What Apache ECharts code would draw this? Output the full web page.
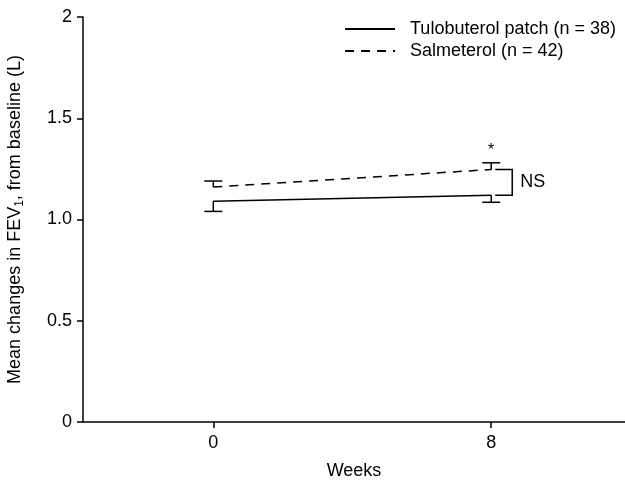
<!DOCTYPE html>
<html>
<head>
<meta charset="utf-8">
<script src="https://cdn.jsdelivr.net/npm/echarts@6/dist/echarts.min.js"></script>
<style>
  html, body { margin: 0; padding: 0; background: #fff; }
  #chart { width: 625px; height: 483px; }
</style>
</head>
<body>
<div id="chart"></div>
<script>
const weeks = [0, 8]
const tuloMean = [1.09, 1.12]
const tuloLow = [1.04, 1.085]
const salMean = [1.16, 1.247]
const salHigh = [1.19, 1.28]

const FONT = 'Liberation Sans'

const chart = echarts.init(document.getElementById('chart'))

// one-sided error bar: stem from mean to end, cap at the end
function errorBar(params, api) {
  const x = api.value(0)
  const p0 = api.coord([x, api.value(1)])
  const p1 = api.coord([x, api.value(2)])
  const style = { stroke: '#000', lineWidth: 1.5 }
  return {
    type: 'group',
    children: [
      { type: 'line', shape: { x1: p0[0], y1: p0[1], x2: p1[0], y2: p1[1] }, style },
      { type: 'line', shape: { x1: p1[0] - 9, y1: p1[1], x2: p1[0] + 9, y2: p1[1] }, style },
    ],
  }
}

// NS bracket between the two groups at the last week
function bracket(params, api) {
  const x = api.value(0)
  const a = api.coord([x, api.value(1)])
  const b = api.coord([x, api.value(2)])
  const style = { stroke: '#000', lineWidth: 1.5, fill: null }
  const bx = a[0] + 21
  return {
    type: 'group',
    children: [
      {
        type: 'polyline',
        shape: { points: [[a[0] + 4, a[1]], [bx, a[1]], [bx, b[1]], [a[0] + 4, b[1]]] },
        style,
      },
      {
        type: 'text',
        style: { x: bx + 8, y: (a[1] + b[1]) / 2, text: 'NS', font: '18px ' + FONT, fill: '#000', verticalAlign: 'middle' },
      },
    ],
  }
}

function star(params, api) {
  const p = api.coord([api.value(0), api.value(1)])
  return {
    type: 'text',
    style: { x: p[0], y: p[1] - 4, text: '*', font: '16px ' + FONT, fill: '#000', align: 'center', verticalAlign: 'bottom' },
  }
}

const last = weeks.length - 1

chart.setOption({
  animation: false,
  textStyle: { fontFamily: FONT, color: '#000' },
  grid: { left: 83, right: 0, top: 17, bottom: 61, containLabel: false, outerBoundsMode: 'none' },
  legend: {
    data: ['Tulobuterol patch (n = 38)', 'Salmeterol (n = 42)'],
    orient: 'vertical',
    right: 4,
    top: 15,
    itemWidth: 50,
    itemHeight: 14,
    itemGap: 4,
    align: 'left',
    itemStyle: { opacity: 0 },
    textStyle: { fontFamily: FONT, fontSize: 18, color: '#000', padding: [0, 0, 0, 10] },
  },
  xAxis: {
    type: 'value',
    min: -3.75,
    max: 11.85,
    name: 'Weeks',
    nameLocation: 'middle',
    nameGap: 40,
    nameTextStyle: { fontFamily: FONT, fontSize: 18, color: '#000' },
    splitLine: { show: false },
    axisLine: { onZero: false, lineStyle: { color: '#000', width: 1.5 } },
    axisTick: { customValues: weeks, length: 6, lineStyle: { color: '#000', width: 1.5 } },
    axisLabel: { customValues: weeks, margin: 12, fontFamily: FONT, fontSize: 18, color: '#000' },
  },
  yAxis: {
    type: 'value',
    min: 0,
    max: 2,
    interval: 0.5,
    name: 'Mean changes in FEV{sub|1}, from baseline (L)',
    nameLocation: 'middle',
    nameRotate: 90,
    nameGap: 57,
    nameTextStyle: {
      fontFamily: FONT,
      fontSize: 18,
      color: '#000',
      rich: { sub: { fontFamily: FONT, fontSize: 12, color: '#000', padding: [10, 0, 0, 0] } },
    },
    splitLine: { show: false },
    axisLine: { show: true, onZero: false, lineStyle: { color: '#000', width: 1.5 } },
    axisTick: { show: true, inside: false, length: 6, lineStyle: { color: '#000', width: 1.5 } },
    axisLabel: {
      margin: 11,
      fontFamily: FONT,
      fontSize: 18,
      color: '#000',
      formatter: (v) => (v === 0 || v === 2 ? String(v) : v.toFixed(1)),
    },
  },
  series: [
    {
      name: 'Tulobuterol patch (n = 38)',
      type: 'line',
      symbol: 'none',
      color: '#000',
      lineStyle: { color: '#000', width: 1.5, type: 'solid' },
      data: weeks.map((w, i) => [w, tuloMean[i]]),
    },
    {
      name: 'Salmeterol (n = 42)',
      type: 'line',
      symbol: 'none',
      color: '#000',
      lineStyle: { color: '#000', width: 1.5, type: [9, 7] },
      data: weeks.map((w, i) => [w, salMean[i]]),
    },
    {
      name: 'tulo-err',
      type: 'custom',
      renderItem: errorBar,
      data: weeks.map((w, i) => [w, tuloMean[i], tuloLow[i]]),
    },
    {
      name: 'sal-err',
      type: 'custom',
      renderItem: errorBar,
      data: weeks.map((w, i) => [w, salMean[i], salHigh[i]]),
    },
    {
      name: 'ns',
      type: 'custom',
      renderItem: bracket,
      data: [[weeks[last], salMean[last], tuloMean[last]]],
    },
    {
      name: 'star',
      type: 'custom',
      renderItem: star,
      data: [[weeks[last], salHigh[last]]],
    },
  ],
})
</script>
</body>
</html>
